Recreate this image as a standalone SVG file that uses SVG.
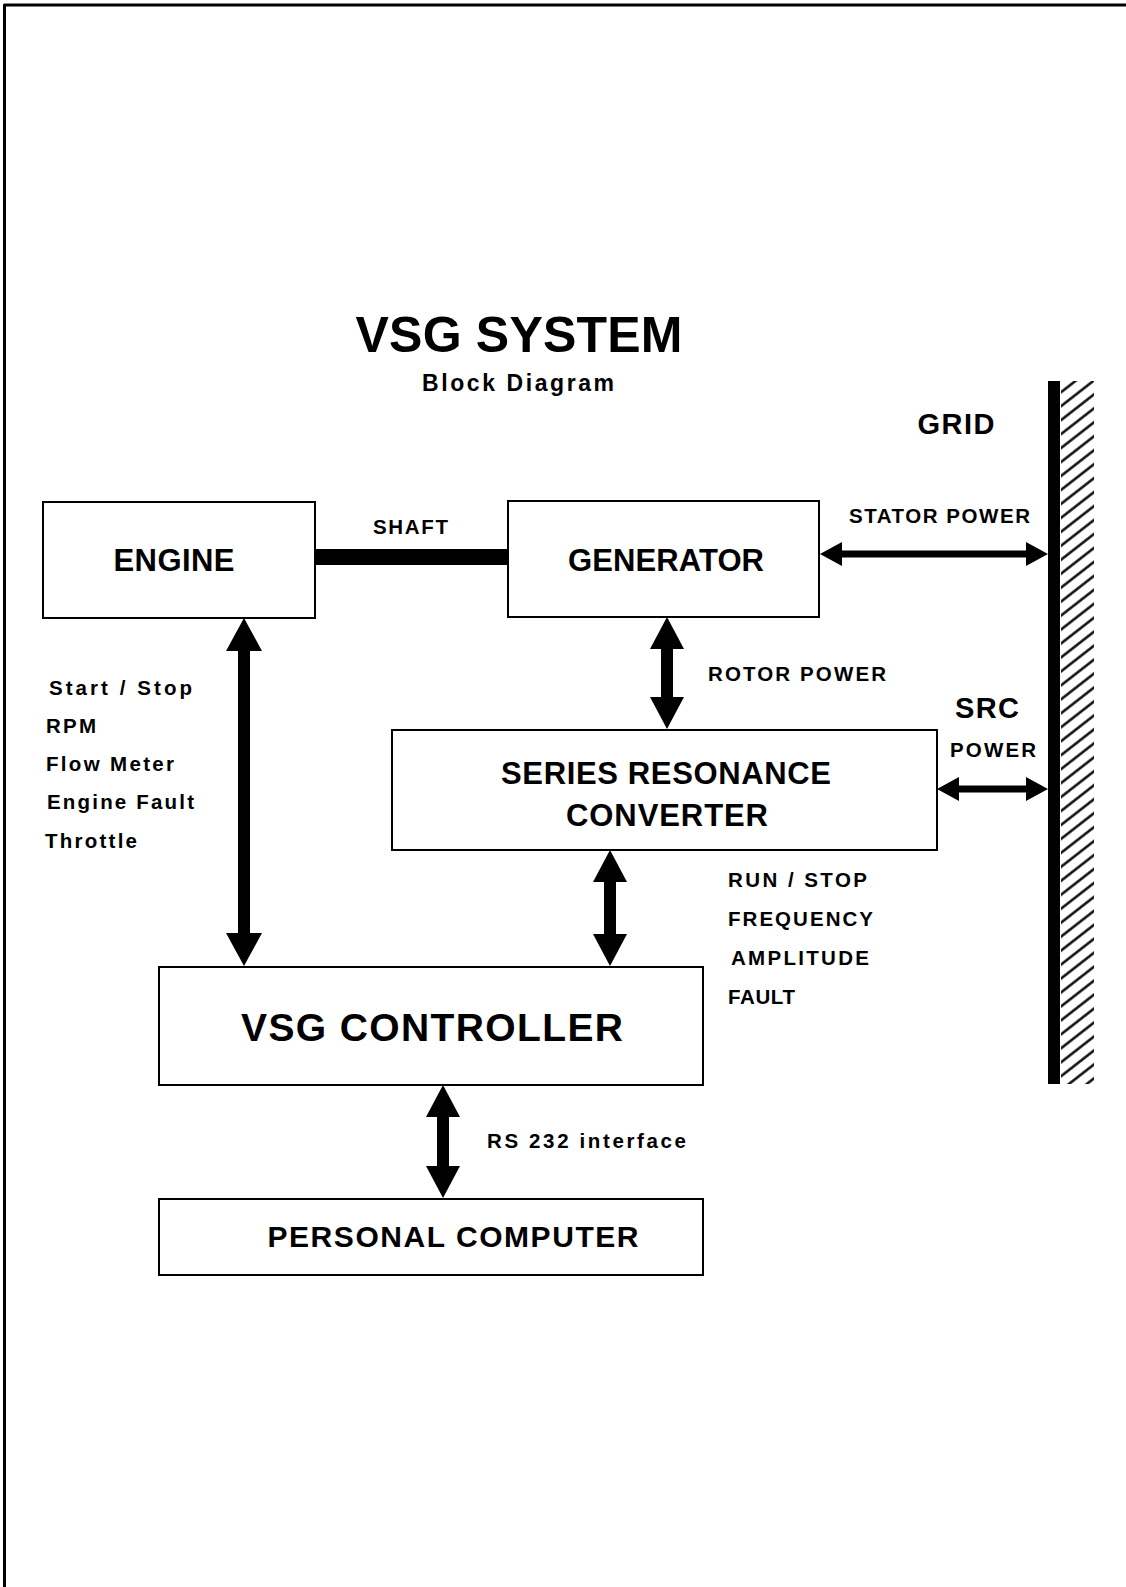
<svg xmlns="http://www.w3.org/2000/svg" width="1126" height="1587" viewBox="0 0 1126 1587">
<style>
  .box { fill: #fff; stroke: #000; stroke-width: 2; }
  .big { font-family: "Liberation Sans", Arial, sans-serif; font-weight: bold; fill: #000; }
  .lbl { font-family: "Liberation Sans", Arial, sans-serif; font-weight: bold; fill: #000; font-size: 20.5px; }
  .arr { fill: #000; stroke: none; }
  .hatch { stroke: #000; stroke-width: 2.4; }
</style>
<defs>
  <pattern id="hp" patternUnits="userSpaceOnUse" width="30" height="11" patternTransform="translate(1060,400) rotate(-38)">
    <line x1="-1" y1="5.5" x2="31" y2="5.5" class="hatch"/>
  </pattern>
</defs>
<rect width="1126" height="1587" fill="#fff"/>
<g id="page-border">
  <line x1="4" y1="5" x2="1126" y2="5" stroke="#000" stroke-width="3"/>
  <line x1="4.5" y1="4" x2="4.5" y2="1587" stroke="#000" stroke-width="3"/>
</g>
<g id="title">
  <text class="big" x="519" y="352" font-size="50" text-anchor="middle" textLength="327">VSG SYSTEM</text>
  <text class="big" x="518" y="391" font-size="23" text-anchor="middle" textLength="192">Block Diagram</text>
</g>
<g id="grid">
  <rect x="1048" y="381" width="12" height="703" fill="#000"/>
  <rect x="1061" y="381" width="33" height="703" fill="url(#hp)"/>
  <text class="big" x="956" y="434" font-size="29" text-anchor="middle" textLength="77">GRID</text>
</g>
<g id="engine">
  <rect class="box" x="43" y="502" width="272" height="116"/>
  <text class="big" x="174" y="571" font-size="31" text-anchor="middle" textLength="121">ENGINE</text>
</g>
<g id="generator">
  <rect class="box" x="508" y="501" width="311" height="116"/>
  <text class="big" x="666" y="571" font-size="31" text-anchor="middle" textLength="196">GENERATOR</text>
</g>
<g id="src">
  <rect class="box" x="392" y="730" width="545" height="120"/>
  <text class="big" x="666" y="784" font-size="31" text-anchor="middle" textLength="330">SERIES RESONANCE</text>
  <text class="big" x="667" y="826" font-size="31" text-anchor="middle" textLength="202">CONVERTER</text>
</g>
<g id="vsg-controller">
  <rect class="box" x="159" y="967" width="544" height="118"/>
  <text class="big" x="432" y="1041" font-size="39" text-anchor="middle" textLength="382">VSG CONTROLLER</text>
</g>
<g id="personal-computer">
  <rect class="box" x="159" y="1199" width="544" height="76"/>
  <text class="big" x="453" y="1247" font-size="30" text-anchor="middle" textLength="371">PERSONAL COMPUTER</text>
</g>
<g id="connectors">
  <rect x="315" y="549" width="193" height="16" fill="#000"/>
  <polygon class="arr" points="820,554 842,542 842,550.5 1026,550.5 1026,542 1048,554 1026,566 1026,557.5 842,557.5 842,566"/>
  <polygon class="arr" points="937,789 959,777 959,785.5 1026,785.5 1026,777 1048,789 1026,801 1026,792.5 959,792.5 959,801"/>
  <polygon class="arr" points="244,618 262,651 250,651 250,933 262,933 244,966 226,933 238,933 238,651 226,651"/>
  <polygon class="arr" points="667,617 684,649 673,649 673,697 684,697 667,729 650,697 661,697 661,649 650,649"/>
  <polygon class="arr" points="610,850 627,882 616,882 616,934 627,934 610,966 593,934 604,934 604,882 593,882"/>
  <polygon class="arr" points="443,1085 460,1117 449,1117 449,1166 460,1166 443,1198 426,1166 437,1166 437,1117 426,1117"/>
</g>
<g id="labels">
  <text class="lbl" x="373" y="534" font-size="19" textLength="75">SHAFT</text>
  <text class="lbl" x="849" y="523" textLength="181">STATOR POWER</text>
  <text class="lbl" x="708" y="681" textLength="178">ROTOR POWER</text>
  <text class="big" x="955" y="718" font-size="29" textLength="64">SRC</text>
  <text class="lbl" x="950" y="757" textLength="86">POWER</text>
  <text class="lbl" x="49" y="695" textLength="143">Start / Stop</text>
  <text class="lbl" x="46" y="733" textLength="50">RPM</text>
  <text class="lbl" x="46" y="771" textLength="128">Flow Meter</text>
  <text class="lbl" x="47" y="809" textLength="147">Engine Fault</text>
  <text class="lbl" x="45" y="848" textLength="92">Throttle</text>
  <text class="lbl" x="728" y="887" textLength="139">RUN / STOP</text>
  <text class="lbl" x="728" y="926" textLength="145">FREQUENCY</text>
  <text class="lbl" x="731" y="965" textLength="138">AMPLITUDE</text>
  <text class="lbl" x="728" y="1004" textLength="67">FAULT</text>
  <text class="lbl" x="487" y="1148" textLength="199">RS 232 interface</text>
</g>
</svg>
